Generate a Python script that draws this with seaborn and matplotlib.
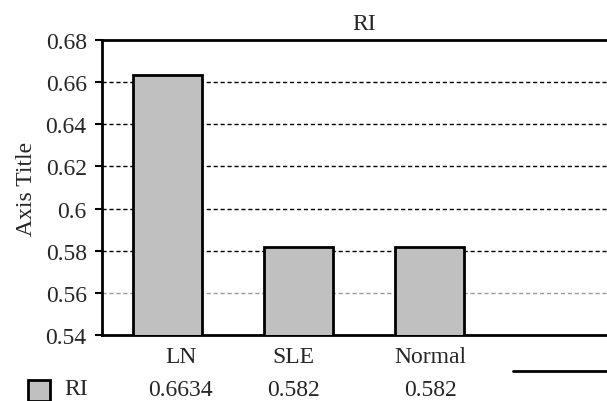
import numpy as np
import pandas as pd
import matplotlib
matplotlib.use("Agg")
import matplotlib.pyplot as plt
import matplotlib.patches as mpatches
import seaborn as sns

# data
categories = ["LN", "SLE", "Normal"]
ri_values = [0.6634, 0.582, 0.582]
value_labels = ["0.6634", "0.582", "0.582"]
series_name = "RI"
y_ticks = [0.54, 0.56, 0.58, 0.60, 0.62, 0.64, 0.66, 0.68]

sns.set_style("white")
plt.rcParams["font.family"] = ["Liberation Serif", "DejaVu Serif"]
FS = 17

df = pd.DataFrame({"cat": categories, "val": ri_values})

fig = plt.figure(figsize=(6.07, 4.02), dpi=100)
ax = fig.add_axes([102 / 607, 66 / 402, 524 / 607, 295 / 402])

sns.barplot(data=df, x="cat", y="val", order=categories, color="#c0c0c0",
            edgecolor="black", linewidth=2, width=0.53, saturation=1, ax=ax, zorder=3)

ax.set_xlim(-0.5, 3.5)
ax.set_ylim(0.54, 0.68)
ax.set_yticks(y_ticks)
ax.set_yticklabels([f"{t:g}" for t in y_ticks], fontsize=FS)
ax.set_xticks([])
ax.set_xlabel("")
ax.set_ylabel("Axis Title", fontsize=FS, labelpad=6)
ax.set_title(series_name, fontsize=FS, pad=8)

ax.tick_params(axis="y", direction="out", length=5, width=1.5, pad=6, color="black", left=True)

# gridlines
ax.grid(False)
for t in y_ticks[1:-1]:
    col = "#999999" if t == 0.56 else "black"
    ax.axhline(t, color=col, lw=1, linestyle=(0, (3, 2)), zorder=1)

for side in ["left", "bottom", "top"]:
    ax.spines[side].set_visible(True)
    ax.spines[side].set_color("black")
    ax.spines[side].set_linewidth(2)
ax.spines["right"].set_visible(False)

# data table below the chart
trans = ax.get_xaxis_transform()
offsets = [0.1, -0.04, 0.01]
for i, (c, v) in enumerate(zip(categories, value_labels)):
    ax.text(i + offsets[i], -0.072, c, transform=trans, ha="center", va="center",
            fontsize=FS, clip_on=False)
    ax.text(i + offsets[i], -0.185, v, transform=trans, ha="center", va="center",
            fontsize=FS, clip_on=False)
ax.plot([2.64, 3.5], [-0.122, -0.122], transform=trans, color="black", lw=2,
        clip_on=False)

# legend key
fig.patches.append(mpatches.Rectangle((28 / 607, 0), 22 / 607, 21 / 402,
                                      transform=fig.transFigure, facecolor="#c0c0c0",
                                      edgecolor="black", linewidth=2))
fig.text(64 / 607, 12 / 402, series_name, fontsize=FS, va="center", ha="left")

fig.savefig("out.png", dpi=100)
